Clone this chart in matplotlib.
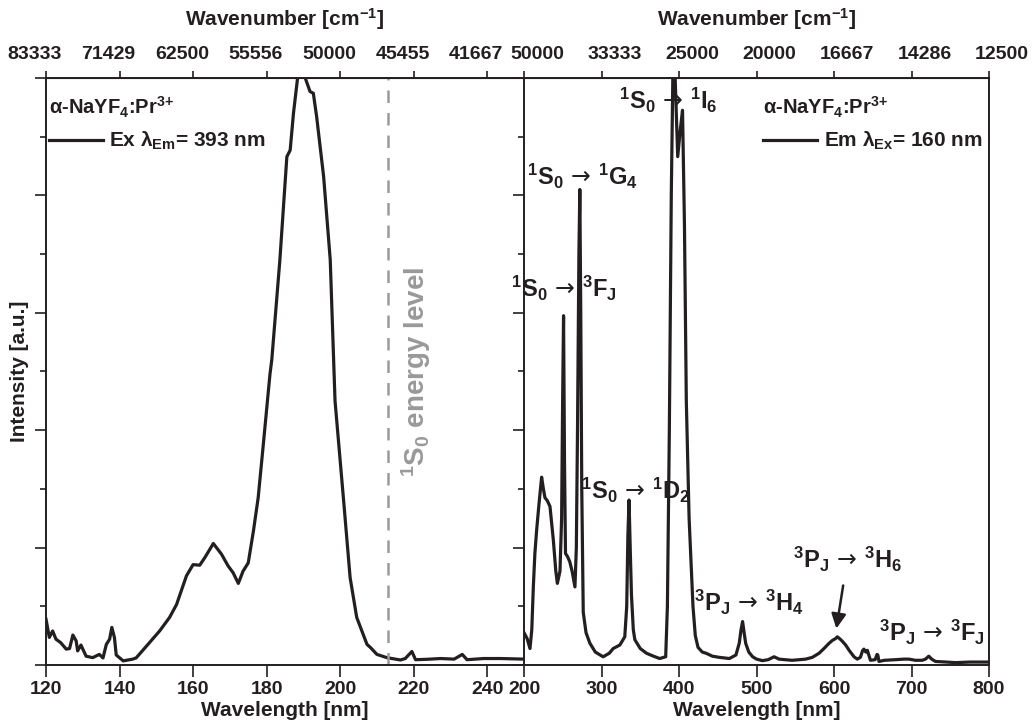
import matplotlib
matplotlib.use('Agg')
import matplotlib.pyplot as plt
import matplotlib.transforms as mtransforms
import numpy as np

plt.rcParams['font.family'] = ['Liberation Sans', 'DejaVu Sans']
plt.rcParams['font.weight'] = 'bold'
plt.rcParams['axes.labelweight'] = 'bold'
plt.rcParams['mathtext.fontset'] = 'custom'
plt.rcParams['mathtext.rm'] = 'Liberation Sans:bold'
plt.rcParams['mathtext.it'] = 'Liberation Sans:bold'
plt.rcParams['mathtext.bf'] = 'Liberation Sans:bold'
plt.rcParams['mathtext.sf'] = 'DejaVu Sans:weight=normal'

ink = '#231f20'

# excitation spectrum (lambda_em = 393 nm)
ex_nm = [120, 120.9, 121.8, 122.7, 124, 125.5, 126.4, 127.3, 128.2, 128.6, 129.5, 130.9,
         132.7, 134.5, 135.5, 136.4, 137.3, 137.9, 138.6, 139.1, 141, 143.6, 144.5, 147.3,
         150.9, 153.6, 155.5, 158.2, 160, 161.8, 163.2, 165.5, 167.7, 169.5, 170.9, 172.3,
         173.6, 175, 176.4, 177.7, 179.1, 180.9, 181.4, 183.6, 185.5, 186.4, 187.3, 188.6,
         189.5, 190.5, 191.8, 192.7, 193.6, 195.5, 197.3, 198, 198.6, 200, 201.1, 202.7,
         204.5, 205.9, 207.3, 208.2, 210, 212.7, 216.4, 217.7, 219.5, 220.5, 223.6, 227.3,
         231, 233.2, 234.5, 239, 243.6, 250]
ex_val = [0.078, 0.047, 0.058, 0.044, 0.038, 0.027, 0.028, 0.051, 0.041, 0.024, 0.034, 0.015,
          0.0125, 0.018, 0.012, 0.035, 0.044, 0.064, 0.047, 0.017, 0.007, 0.010, 0.012, 0.032,
          0.058, 0.081, 0.103, 0.152, 0.171, 0.170, 0.183, 0.207, 0.189, 0.169, 0.157, 0.139,
          0.160, 0.174, 0.228, 0.285, 0.376, 0.495, 0.52, 0.69, 0.866, 0.877, 0.94, 1.01,
          1.02, 1.0, 0.977, 0.974, 0.934, 0.832, 0.69, 0.56, 0.45, 0.348, 0.268, 0.149,
          0.081, 0.058, 0.035, 0.030, 0.018, 0.0125, 0.0085, 0.011, 0.023, 0.009, 0.0097, 0.011,
          0.010, 0.018, 0.009, 0.011, 0.011, 0.010]

# emission spectrum (lambda_ex = 160 nm)
em_nm = [200, 204, 207.7, 210, 212, 214, 216.3, 219, 222.7, 225, 227, 230, 233.5, 237.8, 241,
         243, 246.4, 248.5, 249.8, 251, 252.2, 253.5, 256, 259, 262, 265.7, 267.5, 269, 270.8,
         272, 273.2, 274.5, 276.4, 280, 285, 292, 302, 310, 315, 323.6, 330, 332.5, 334, 335.5,
         337, 338.6, 341, 343, 350, 358, 367, 375, 382.8, 385, 387.5, 390, 392.5, 395, 398.3,
         401.5, 404.5, 407, 409.4, 413, 418, 421, 424.5, 430, 435, 443, 452, 465, 473.4, 477.7,
         480, 482, 484, 486, 490, 495, 500, 507.7, 515, 522.7, 529, 537, 546, 555, 563.5, 572,
         580.7, 587, 593.6, 598, 602, 604.3, 608, 611, 615, 620, 625.8, 630, 634, 637, 638.6,
         641, 643, 647, 653, 655.5, 656.5, 658, 665, 679, 690, 696.6, 705, 713.7, 718, 722.3,
         726, 731, 745, 757, 775, 795, 800]
em_val = [0.055, 0.045, 0.028, 0.06, 0.133, 0.19, 0.23, 0.27, 0.32, 0.30, 0.285, 0.28, 0.27,
          0.213, 0.16, 0.139, 0.16, 0.25, 0.45, 0.595, 0.35, 0.19, 0.185, 0.176, 0.16, 0.133,
          0.2, 0.4, 0.7, 0.81, 0.6, 0.3, 0.09, 0.055, 0.037, 0.022, 0.014, 0.02, 0.028, 0.034,
          0.048, 0.1, 0.22, 0.281, 0.2, 0.12, 0.06, 0.043, 0.028, 0.02, 0.015, 0.011, 0.014, 0.1,
          0.4, 0.8, 1.05, 1.0, 0.866, 0.91, 0.945, 0.75, 0.45, 0.25, 0.1, 0.05, 0.03, 0.022, 0.02,
          0.015, 0.013, 0.011, 0.017, 0.037, 0.06, 0.074, 0.055, 0.037, 0.022, 0.014, 0.01,
          0.0074, 0.009, 0.014, 0.01, 0.009, 0.008, 0.009, 0.01, 0.013, 0.02, 0.028, 0.037, 0.042,
          0.045, 0.048, 0.044, 0.04, 0.034, 0.024, 0.014, 0.01, 0.013, 0.025, 0.027, 0.022, 0.025,
          0.008, 0.009, 0.018, 0.017, 0.006, 0.008, 0.009, 0.01, 0.01, 0.008, 0.008, 0.01, 0.015,
          0.01, 0.006, 0.005, 0.004, 0.005, 0.005, 0.005]

ex_ticks = [120, 140, 160, 180, 200, 220, 240]
em_ticks = [200, 300, 400, 500, 600, 700, 800]
s0_level = 213

fig = plt.figure(figsize=(10.34, 7.27), dpi=100)
axl = fig.add_axes([0.0445, 0.0853, 0.4623, 0.8074])
axr = fig.add_axes([0.5068, 0.0853, 0.4497, 0.8074])

for ax in (axl, axr):
    ax.set_ylim(0, 1)
    ax.set_yticks(np.arange(0, 1.01, 0.2))
    ax.set_yticks(np.arange(0.1, 1.0, 0.2), minor=True)
    ax.set_yticklabels([])
    ax.tick_params(axis='y', which='major', direction='out', length=8, width=1.2, color=ink)
    ax.tick_params(axis='y', which='minor', direction='out', length=4.5, width=1.2, color=ink)
    ax.tick_params(axis='x', direction='out', length=8.5, width=1.2, color=ink,
                   labelsize=14, labelcolor=ink, pad=3)
    for s in ax.spines.values():
        s.set_linewidth(1.4)
        s.set_color(ink)


def shift_labels(axis_obj, dx_px):
    off = mtransforms.ScaledTranslation(dx_px / 100, 0, fig.dpi_scale_trans)
    for lab in axis_obj.xaxis.get_majorticklabels():
        lab.set_transform(lab.get_transform() + off)


def add_legend(ax, x0, title):
    leg = ax.legend(loc='upper left', bbox_to_anchor=(x0, 0.997), frameon=False,
                    title=title, alignment='left', fontsize=15,
                    handlelength=2.6, handletextpad=0.3, borderpad=0.2, labelspacing=0.5)
    leg.get_title().set_fontsize(14.5)
    leg.get_title().set_color(ink)
    for t in leg.get_texts():
        t.set_color(ink)


material = r'$\alpha$-NaYF$_4$:Pr$^{3{+}}$'

# left: excitation
axl.plot(ex_nm, ex_val, color=ink, lw=2.3, label=r'Ex $\lambda_{Em}$= 393 nm')
axl.axvline(s0_level, color='#9a9a9a', lw=1.8, ls=(0, (5, 4)))
axl.set_xlim(120, 250)
axl.set_xticks(ex_ticks)
axl.spines['right'].set_visible(False)
axl.set_xlabel('Wavelength [nm]', fontsize=15, color=ink, labelpad=2)
axl.set_ylabel('Intensity [a.u.]', fontsize=15, color=ink, labelpad=1)
axl.text(0.775, 0.5, r'$^1$S$_0$ energy level', transform=axl.transAxes, rotation=90,
         ha='center', va='center', fontsize=20, color='#999999')
topl = axl.secondary_xaxis('top')
topl.set_xticks(ex_ticks, labels=[f'{1e7 / w:.0f}' for w in ex_ticks])
topl.tick_params(direction='out', length=5, width=1.2, color=ink, labelsize=14, labelcolor=ink, pad=6)
topl.set_xlabel('Wavenumber [cm$^{-1}$]', fontsize=15, color=ink, labelpad=14)
shift_labels(topl, -11)
add_legend(axl, -0.025, material)

# right: emission
axr.plot(em_nm, em_val, color=ink, lw=2.3, label=r'Em $\lambda_{Ex}$= 160 nm')
axr.set_xlim(200, 800)
axr.set_xticks(em_ticks)
axr.set_xlabel('Wavelength [nm]', fontsize=15, color=ink, labelpad=2)
topr = axr.secondary_xaxis('top')
topr.set_xticks(em_ticks, labels=[f'{1e7 / w:.0f}' for w in em_ticks])
topr.tick_params(direction='out', length=5, width=1.2, color=ink, labelsize=14, labelcolor=ink, pad=6)
topr.set_xlabel('Wavenumber [cm$^{-1}$]', fontsize=15, color=ink, labelpad=14)
shift_labels(topr, 13)
add_legend(axr, 0.483, material)

arr = r'$\,\mathsf{\rightarrow}\,$'
labels = [
    (r'$^1$S$_0$' + arr + r'$^1$I$_6$', 0.31, 0.962),
    (r'$^1$S$_0$' + arr + r'$^1$G$_4$', 0.125, 0.833),
    (r'$^1$S$_0$' + arr + r'$^3$F$_J$', 0.086, 0.642),
    (r'$^1$S$_0$' + arr + r'$^1$D$_2$', 0.239, 0.298),
    (r'$^3$P$_J$' + arr + r'$^3$H$_4$', 0.484, 0.106),
    (r'$^3$P$_J$' + arr + r'$^3$F$_J$', 0.877, 0.056),
]
for txt, x, y in labels:
    axr.text(x, y, txt, transform=axr.transAxes, ha='center', va='center',
             fontsize=17, color=ink)

axr.annotate(r'$^3$P$_J$' + arr + r'$^3$H$_6$', xy=(603, 0.062), xycoords='data',
             xytext=(0.695, 0.179), textcoords='axes fraction', ha='center', va='center',
             fontsize=17, color=ink,
             arrowprops=dict(arrowstyle='-|>', color=ink, lw=1.8, mutation_scale=22,
                             shrinkA=6, shrinkB=0))

fig.savefig('out.png', dpi=100)
